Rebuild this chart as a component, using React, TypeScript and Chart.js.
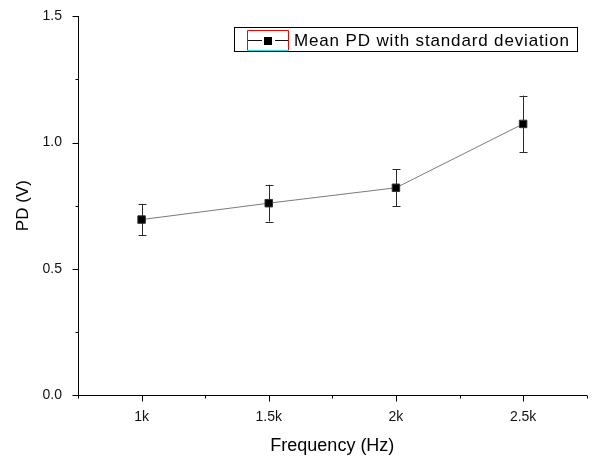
import React, { useEffect, useRef } from 'react';
import { Chart, registerables } from 'chart.js';

Chart.register(...registerables);

const categories = ['1k', '1.5k', '2k', '2.5k'];
const meanPD = [0.695, 0.76, 0.821, 1.074];
const stdPD = [0.062, 0.073, 0.074, 0.112];
const yTickValues = [0, 0.5, 1.0, 1.5];
const legendLabel = 'Mean PD with standard deviation';
const xTitle = 'Frequency (Hz)';
const yTitle = 'PD (V)';

const FONT = '"Liberation Sans", Arial, sans-serif';

const errorBarPlugin = {
  id: 'errorBars',
  beforeDatasetsDraw(chart: any) {
    const { ctx, scales } = chart;
    const xs = scales.x;
    const ys = scales.y;
    ctx.save();
    ctx.strokeStyle = '#2a2a2a';
    ctx.lineWidth = 1;
    meanPD.forEach((m, i) => {
      const x = Math.round(xs.getPixelForValue(i + 1)) + 0.5;
      const yTop = ys.getPixelForValue(m + stdPD[i]);
      const yBot = ys.getPixelForValue(m - stdPD[i]);
      ctx.beginPath();
      ctx.moveTo(x, yTop);
      ctx.lineTo(x, yBot);
      ctx.moveTo(x - 4, Math.round(yTop) + 0.5);
      ctx.lineTo(x + 4, Math.round(yTop) + 0.5);
      ctx.moveTo(x - 4, Math.round(yBot) + 0.5);
      ctx.lineTo(x + 4, Math.round(yBot) + 0.5);
      ctx.stroke();
    });
    ctx.restore();
  },
};

const axisTicksPlugin = {
  id: 'axisTicks',
  afterDraw(chart: any) {
    const { ctx, scales, chartArea } = chart;
    const xs = scales.x;
    const ys = scales.y;
    ctx.save();
    ctx.strokeStyle = '#000';
    ctx.lineWidth = 1;
    ctx.beginPath();
    const left = Math.round(chartArea.left) + 0.5;
    const bottom = Math.round(chartArea.bottom) + 0.5;
    for (let k = 0; k <= 6; k++) {
      const v = k * 0.25;
      const y = Math.round(ys.getPixelForValue(v)) + 0.5;
      const len = k % 2 === 0 ? 6 : 3;
      ctx.moveTo(left - len, y);
      ctx.lineTo(left, y);
    }
    for (let k = 1; k <= 9; k++) {
      const v = k * 0.5;
      const x = Math.round(xs.getPixelForValue(v)) + 0.5;
      const len = k % 2 === 0 ? 6 : 3;
      ctx.moveTo(x, bottom);
      ctx.lineTo(x, bottom + len);
    }
    ctx.stroke();
    ctx.restore();
  },
};

const legendPlugin = {
  id: 'customLegend',
  afterDraw(chart: any) {
    const { ctx } = chart;
    ctx.save();
    ctx.strokeStyle = '#000';
    ctx.lineWidth = 1;
    ctx.strokeRect(234.5, 27.5, 343, 24);
    ctx.strokeStyle = '#ff0000';
    ctx.beginPath();
    ctx.moveTo(247.5, 50.5);
    ctx.lineTo(247.5, 30.5);
    ctx.lineTo(288.5, 30.5);
    ctx.lineTo(288.5, 50.5);
    ctx.stroke();
    ctx.strokeStyle = '#00e5e5';
    ctx.beginPath();
    ctx.moveTo(247.5, 50.5);
    ctx.lineTo(288.5, 50.5);
    ctx.stroke();
    ctx.strokeStyle = '#111';
    ctx.beginPath();
    ctx.moveTo(248, 40.5);
    ctx.lineTo(262, 40.5);
    ctx.moveTo(275, 40.5);
    ctx.lineTo(288, 40.5);
    ctx.stroke();
    ctx.fillStyle = '#000';
    ctx.fillRect(264, 37, 8, 8);
    ctx.fillStyle = '#000';
    ctx.font = '17px ' + FONT;
    ctx.textBaseline = 'middle';
    ctx.textAlign = 'left';
    try {
      (ctx as any).letterSpacing = '0.85px';
    } catch (e) {}
    ctx.fillText(legendLabel, 294, 41);
    ctx.restore();
  },
};

export default function App() {
  const canvasRef = useRef<HTMLCanvasElement | null>(null);

  useEffect(() => {
    document.body.style.margin = '0';
    const canvas = canvasRef.current;
    if (!canvas) return;
    Chart.defaults.font.family = FONT;
    const chart = new Chart(canvas, {
      type: 'line',
      data: {
        datasets: [
          {
            label: legendLabel,
            data: meanPD.map((m, i) => ({ x: i + 1, y: m })),
            borderColor: '#7a7a7a',
            borderWidth: 1,
            pointStyle: 'rect',
            pointRadius: 5.3,
            pointBackgroundColor: '#000',
            pointBorderColor: '#333',
            pointBorderWidth: 1,
            tension: 0,
          },
        ],
      },
      options: {
        responsive: false,
        animation: false,
        devicePixelRatio: 1,
        layout: { padding: { top: 16, right: 6, left: 0, bottom: 0 } },
        plugins: {
          legend: { display: false },
          tooltip: { enabled: false },
        },
        scales: {
          x: {
            type: 'linear',
            min: 0.5,
            max: 4.5,
            afterBuildTicks: (s: any) => {
              s.ticks = categories.map((_, i) => ({ value: i + 1 }));
            },
            afterFit: (s: any) => {
              s.height = 63;
            },
            grid: { display: false },
            border: { display: true, color: '#000', width: 1 },
            ticks: {
              color: '#111',
              font: { size: 14, family: FONT },
              padding: 6,
              maxRotation: 0,
              autoSkip: false,
              callback: (v: any) => categories[Math.round(Number(v)) - 1] ?? '',
            },
            title: {
              display: true,
              text: xTitle,
              color: '#000',
              font: { size: 18, family: FONT },
              padding: { top: 0, bottom: 1 },
            },
          },
          y: {
            type: 'linear',
            min: 0,
            max: 1.5,
            afterBuildTicks: (s: any) => {
              s.ticks = yTickValues.map((v) => ({ value: v }));
            },
            afterFit: (s: any) => {
              s.width = 78;
            },
            grid: { display: false },
            border: { display: true, color: '#000', width: 1 },
            ticks: {
              color: '#111',
              font: { size: 14, family: FONT },
              padding: 8,
              callback: (v: any) => Number(v).toFixed(1),
            },
            title: {
              display: true,
              text: yTitle,
              color: '#000',
              font: { size: 17, family: FONT },
              padding: { top: 13, bottom: 0 },
            },
          },
        },
      },
      plugins: [errorBarPlugin, axisTicksPlugin, legendPlugin],
    });
    return () => chart.destroy();
  }, []);

  return (
    <div style={{ width: 593, height: 458, background: '#fff' }}>
      <canvas ref={canvasRef} width={593} height={458} style={{ display: 'block' }} />
    </div>
  );
}
